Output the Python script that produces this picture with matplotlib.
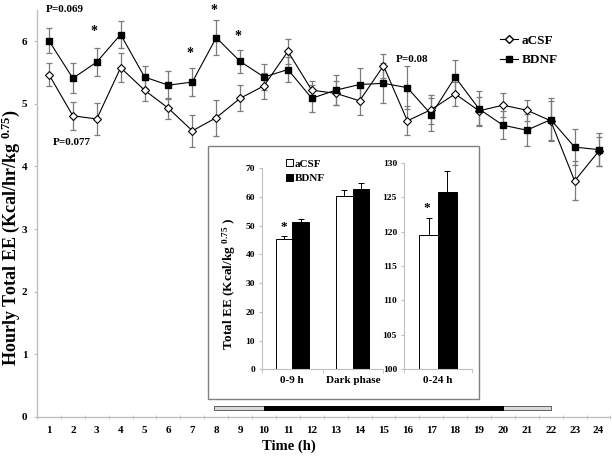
import matplotlib
matplotlib.use('Agg')
import matplotlib.pyplot as plt
from matplotlib.patches import Rectangle, Patch
from matplotlib.lines import Line2D
import numpy as np

# ---------------- data ----------------
hours = list(range(1, 25))
acsf = [5.47, 4.81, 4.76, 5.58, 5.22, 4.93, 4.57, 4.78, 5.09, 5.29, 5.84, 5.22,
        5.17, 5.05, 5.61, 4.73, 4.91, 5.16, 4.89, 4.98, 4.90, 4.73, 3.77, 4.24]
acsf_se = [0.18, 0.22, 0.25, 0.23, 0.17, 0.17, 0.26, 0.29, 0.21, 0.21, 0.20, 0.15,
           0.19, 0.22, 0.19, 0.23, 0.23, 0.19, 0.22, 0.19, 0.17, 0.31, 0.31, 0.23]
bdnf = [6.01, 5.41, 5.67, 6.11, 5.43, 5.30, 5.35, 6.06, 5.68, 5.43, 5.55, 5.09,
        5.22, 5.31, 5.33, 5.26, 4.83, 5.43, 4.92, 4.66, 4.58, 4.75, 4.31, 4.27]
bdnf_se = [0.20, 0.24, 0.22, 0.21, 0.18, 0.22, 0.22, 0.28, 0.19, 0.21, 0.20, 0.22,
           0.24, 0.27, 0.32, 0.34, 0.26, 0.28, 0.28, 0.22, 0.26, 0.34, 0.29, 0.27]
sig_hours = [3, 7, 8, 9]
star_y = [6.10, 5.75, 6.43, 6.02]
p_labels = ["P=0.069", "P=0.077", "P=0.08"]
p_x = [1.67, 1.97, 16.2]
p_y = [6.51, 4.38, 5.71]
light_start, dark_start, dark_end, light_end = 7.9, 10, 20, 22

inset_groups = ["0-9 h", "Dark phase"]
inset_acsf = [45.3, 60.3]
inset_acsf_se = [1.1, 2.1]
inset_bdnf = [51.2, 62.7]
inset_bdnf_se = [1.0, 2.1]
total_group = ["0-24 h"]
total_acsf = [119.5]
total_acsf_se = [2.4]
total_bdnf = [125.8]
total_bdnf_se = [3.0]

# ---------------- style ----------------
plt.rcParams['font.family'] = ['Liberation Serif', 'DejaVu Serif']
plt.rcParams['font.weight'] = 'bold'
plt.rcParams['mathtext.fontset'] = 'custom'
plt.rcParams['mathtext.rm'] = 'Liberation Serif:bold'
plt.rcParams['mathtext.bf'] = 'Liberation Serif:bold'
plt.rcParams['mathtext.it'] = 'Liberation Serif:bold'
spine_c = '#bfbfbf'
err_c = '#7a7a7a'

fig = plt.figure(figsize=(6.12, 4.68), dpi=100)
ax = fig.add_axes([0.0605, 0.1096, 0.937, 0.8688])
x = np.array(hours)

ax.errorbar(x, acsf, yerr=acsf_se, fmt='none', ecolor=err_c, elinewidth=0.9,
            capsize=2, capthick=0.9, zorder=2)
ax.errorbar(x, bdnf, yerr=bdnf_se, fmt='none', ecolor=err_c, elinewidth=0.9,
            capsize=2, capthick=0.9, zorder=2)
ax.plot(x, acsf, color='black', lw=0.8, marker='D', ms=3.6, mfc='white',
        mec='black', mew=0.8, zorder=3)
ax.plot(x, bdnf, color='black', lw=0.8, marker='s', ms=4.8, mfc='black',
        mec='black', zorder=3)

ax.set_xlim(0.5, 24.5)
ax.set_ylim(0, 6.5)
ax.set_xticks(x)
ax.set_xticks(np.arange(0.5, 25, 1), minor=True)
ax.tick_params(axis='x', which='major', length=0, pad=7, labelsize=8)
ax.tick_params(axis='x', which='minor', length=3, direction='inout', color=spine_c)
ax.set_yticks(range(7))
ax.tick_params(axis='y', length=2, direction='out', color=spine_c, labelsize=8, pad=5)
for lab in ax.get_xticklabels() + ax.get_yticklabels():
    lab.set_fontweight('bold')
for s in ['top', 'right']:
    ax.spines[s].set_visible(False)
for s in ['left', 'bottom']:
    ax.spines[s].set_color(spine_c)
    ax.spines[s].set_linewidth(1.0)

ax.set_ylabel(r"Hourly Total EE (Kcal/hr/kg $^{0.75}$)", fontsize=13, fontweight='bold')
ax.yaxis.set_label_coords(-0.026, 0.44)
ax.set_xlabel("Time (h)", fontsize=10.5, fontweight='bold')
ax.xaxis.set_label_coords(0.439, -0.057)

# stars & P labels
for h, sy in zip(sig_hours, star_y):
    ax.text(h - 0.1, sy, "*", ha='center', va='baseline', fontsize=10,
            fontweight='bold', clip_on=False)
for t, px, py in zip(p_labels, p_x, p_y):
    ax.text(px, py, t, ha='center', va='center', fontsize=8, fontweight='bold',
            clip_on=False)

# light/dark bar
ax.broken_barh([(light_start, light_end - light_start)], (0.10, 0.07),
               facecolors='#d9d9d9', edgecolors='#606060', linewidth=0.7, zorder=2)
ax.broken_barh([(dark_start, dark_end - dark_start)], (0.10, 0.07),
               facecolors='black', edgecolors='black', linewidth=0.7, zorder=3)

# legend
handles = [Line2D([], [], color='black', lw=0.8, marker='D', ms=3.6, mfc='white', mec='black'),
           Line2D([], [], color='black', lw=0.8, marker='s', ms=4.8, mfc='black', mec='black')]
leg = ax.legend(handles, ['aCSF', 'BDNF'], loc='upper left', bbox_to_anchor=(0.807, 0.94),
                frameon=False, fontsize=9.5, handlelength=1.35, handletextpad=0.3,
                labelspacing=0.55, borderpad=0, borderaxespad=0)
for t in leg.get_texts():
    t.set_fontweight('bold')

# inset frame
box = Rectangle((208 / 612, (468 - 399) / 468), (479 - 208) / 612, (399 - 146) / 468,
                transform=fig.transFigure, facecolor='white', edgecolor='#808080',
                linewidth=1.0, zorder=1)
fig.add_artist(box)

bw = 0.276
# inset left
ax1 = fig.add_axes([262 / 612, (468 - 369.3) / 468, 121 / 612, 201 / 468], zorder=2)
ax1.patch.set_alpha(0)
gi = np.arange(len(inset_groups))
ax1.bar(gi - bw / 2, inset_acsf, bw, color='white', edgecolor='black', linewidth=0.7,
        yerr=[[0] * len(gi), inset_acsf_se], error_kw=dict(ecolor='black', elinewidth=0.7, capsize=2, capthick=0.7))
ax1.bar(gi + bw / 2, inset_bdnf, bw, color='black', edgecolor='black', linewidth=0.7,
        yerr=[[0] * len(gi), inset_bdnf_se], error_kw=dict(ecolor='black', elinewidth=0.7, capsize=2, capthick=0.7))
ax1.set_xlim(-0.5, len(gi) - 0.5)
ax1.set_ylim(0, 70)
ax1.set_yticks(range(0, 71, 10))
ax1.set_xticks(gi)
ax1.set_xticklabels(inset_groups)
ax1.set_xticks(np.arange(-0.5, len(gi), 1), minor=True)
ax1.tick_params(axis='x', which='major', length=0, pad=5, labelsize=8)
ax1.tick_params(axis='x', which='minor', length=3, direction='out', color=spine_c)
ax1.tick_params(axis='y', length=2, direction='out', color=spine_c, labelsize=6.8, pad=3)
for lab in ax1.get_xticklabels() + ax1.get_yticklabels():
    lab.set_fontweight('bold')
for s in ['top', 'right']:
    ax1.spines[s].set_visible(False)
for s in ['left', 'bottom']:
    ax1.spines[s].set_color(spine_c)
ax1.set_ylabel(r"Total EE (Kcal/kg $^{0.75}$ )", fontsize=9.5, fontweight='bold')
ax1.yaxis.set_label_coords(-0.2, 0.425)
ax1.text(gi[0] - bw / 2, inset_acsf[0] + inset_acsf_se[0] + 1.0, "*", ha='center',
         va='bottom', fontsize=9.5, fontweight='bold')
lh = [Patch(facecolor='white', edgecolor='black', linewidth=0.7),
      Patch(facecolor='black', edgecolor='black', linewidth=0.7)]
lg1 = ax1.legend(lh, ['aCSF', 'BDNF'], loc='upper left', bbox_to_anchor=(0.2, 1.045),
                 frameon=False, fontsize=8, handlelength=0.6, handleheight=0.6,
                 handletextpad=0.2, labelspacing=0.45, borderpad=0, borderaxespad=0)
for t in lg1.get_texts():
    t.set_fontweight('bold')

# inset right
ax2 = fig.add_axes([404 / 612, (468 - 369.3) / 468, 68 / 612, 206.6 / 468], zorder=2)
ax2.patch.set_alpha(0)
ti = np.arange(len(total_group))
ax2.bar(ti - bw / 2, total_acsf, bw, color='white', edgecolor='black', linewidth=0.7,
        yerr=[[0], total_acsf_se], error_kw=dict(ecolor='black', elinewidth=0.7, capsize=2, capthick=0.7))
ax2.bar(ti + bw / 2, total_bdnf, bw, color='black', edgecolor='black', linewidth=0.7,
        yerr=[[0], total_bdnf_se], error_kw=dict(ecolor='black', elinewidth=0.7, capsize=2, capthick=0.7))
ax2.set_xlim(-0.5, 0.5)
ax2.set_ylim(100, 130)
ax2.set_yticks(range(100, 131, 5))
ax2.set_xticks(ti)
ax2.set_xticklabels(total_group)
ax2.set_xticks([-0.5, 0.5], minor=True)
ax2.tick_params(axis='x', which='major', length=0, pad=5, labelsize=8)
ax2.tick_params(axis='x', which='minor', length=3, direction='out', color=spine_c)
ax2.tick_params(axis='y', length=2, direction='out', color=spine_c, labelsize=6.8, pad=3)
for lab in ax2.get_xticklabels() + ax2.get_yticklabels():
    lab.set_fontweight('bold')
for s in ['top', 'right']:
    ax2.spines[s].set_visible(False)
for s in ['left', 'bottom']:
    ax2.spines[s].set_color(spine_c)
ax2.text(ti[0] - bw / 2 - 0.02, total_acsf[0] + total_acsf_se[0] + 0.6, "*", ha='center',
         va='bottom', fontsize=9.5, fontweight='bold')

fig.savefig('out.png', dpi=100)
